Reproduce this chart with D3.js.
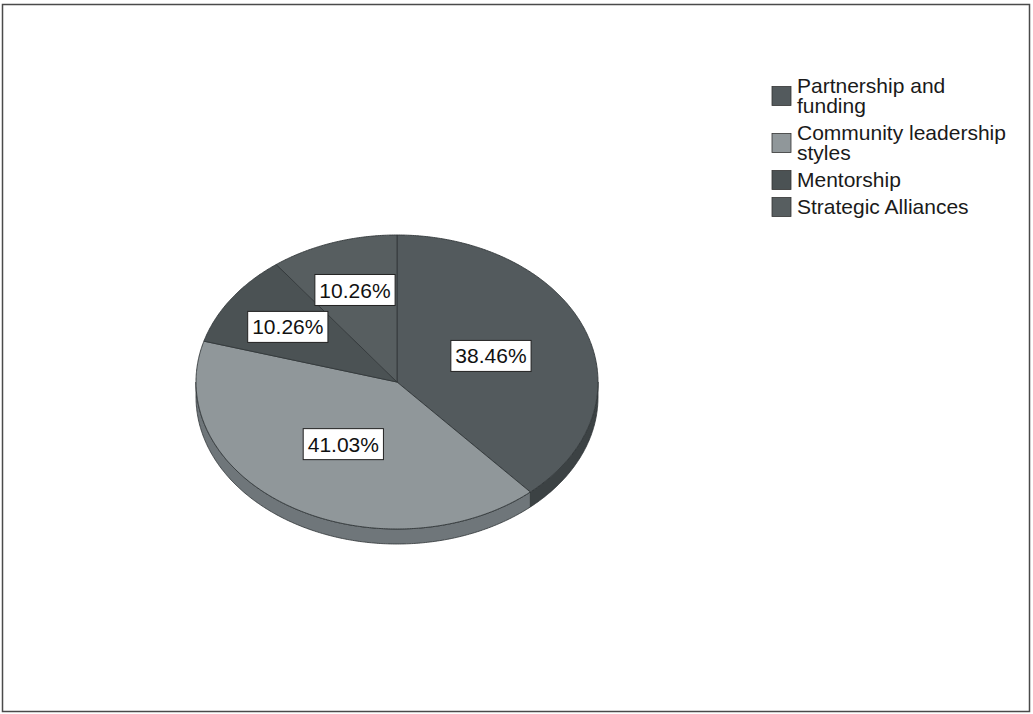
<!DOCTYPE html>
<html>
<head>
<meta charset="utf-8">
<script src="https://cdn.jsdelivr.net/npm/d3@7/dist/d3.min.js"></script>
<style>
  html, body { margin: 0; padding: 0; background: #fff; }
  svg { display: block; }
  text { font-family: "Liberation Sans", Arial, sans-serif; }
</style>
</head>
<body>
<svg id="chart" width="1033" height="714"></svg>
<script>
// ---- data ----
const categories = ["Partnership and funding", "Community leadership styles", "Mentorship", "Strategic Alliances"];
const legendLines = [["Partnership and", "funding"], ["Community leadership", "styles"], ["Mentorship"], ["Strategic Alliances"]];
const values = [38.46, 41.03, 10.26, 10.26];
const topColors = ["#535a5d", "#90979a", "#4b5254", "#575e60"];
const sideColors = ["#3c4244", "#6f767a", "#394042", "#41484a"];

// ---- layout ----
const W = 1033, H = 714;
const cx = 397, cy = 382, rx = 201, ry = 147, depth = 15;

const svg = d3.select("#chart");

// outer frame
svg.append("rect")
  .attr("x", 2.5).attr("y", 4.5).attr("width", 1027).attr("height", 707)
  .attr("fill", "#fff").attr("stroke", "#4a4a4a").attr("stroke-width", 1.5);

const pie = d3.pie().sort(null).value(d => d).startAngle(0).endAngle(2 * Math.PI);
const arcs = pie(values);

const sx = d3.scaleLinear().domain([-1, 1]).range([cx - rx, cx + rx]);
const sy = d3.scaleLinear().domain([-1, 1]).range([cy - ry, cy + ry]);
function pt(a, f = 1, dy = 0) {
  return [sx(f * Math.sin(a)), sy(-f * Math.cos(a)) + dy];
}
function arcPoints(a0, a1, dy = 0) {
  const n = Math.max(2, Math.ceil((a1 - a0) / (Math.PI / 360)));
  const pts = [];
  for (let i = 0; i <= n; i++) pts.push(pt(a0 + (a1 - a0) * i / n, 1, dy));
  return pts;
}
const line = d3.line();

const g = svg.append("g");

// side walls (front half only: angles between PI/2 and 3PI/2)
arcs.forEach((d, i) => {
  const s = Math.max(d.startAngle, Math.PI / 2);
  const e = Math.min(d.endAngle, 3 * Math.PI / 2);
  if (e <= s) return;
  const top = arcPoints(s, e, 0);
  const bot = arcPoints(s, e, depth).reverse();
  g.append("path")
    .attr("d", line(top.concat(bot)) + "Z")
    .attr("fill", sideColors[i])
    .attr("stroke", "#2f3436").attr("stroke-width", 0.8).attr("stroke-linejoin", "round");
});

// top faces
arcs.forEach((d, i) => {
  const pts = [[cx, cy]].concat(arcPoints(d.startAngle, d.endAngle, 0));
  g.append("path")
    .attr("d", line(pts) + "Z")
    .attr("fill", topColors[i])
    .attr("stroke", "#33393b").attr("stroke-width", 0.9).attr("stroke-linejoin", "round");
});

// data labels
const total = d3.sum(values);
arcs.forEach((d, i) => {
  const mid = (d.startAngle + d.endAngle) / 2;
  const f = d.value / total > 0.2 ? 0.5 : 0.66;
  const [lx, ly] = pt(mid, f);
  const lg = svg.append("g").attr("transform", `translate(${lx},${ly})`);
  const t = lg.append("text")
    .attr("text-anchor", "middle").attr("dy", "0.36em")
    .attr("font-size", 21).attr("fill", "#111")
    .text(d3.format(".2f")(d.value) + "%");
  const bb = t.node().getBBox();
  lg.insert("rect", "text")
    .attr("x", -bb.width / 2 - 4.5).attr("y", -15.5)
    .attr("width", bb.width + 9).attr("height", 31)
    .attr("fill", "#fff").attr("stroke", "#222").attr("stroke-width", 1);
});

// legend
const lgX = 772, txX = 797, firstBase = 93, lineH = 20, gap = 7;
let base = firstBase;
categories.forEach((c, i) => {
  const lines = legendLines[i];
  const lastBase = base + (lines.length - 1) * lineH;
  const sqC = (base + lastBase) / 2 - 7;
  svg.append("rect")
    .attr("x", lgX).attr("y", sqC - 9.5).attr("width", 19).attr("height", 19)
    .attr("fill", topColors[i]).attr("stroke", "#333").attr("stroke-width", 0.8);
  const t = svg.append("text").attr("x", txX).attr("y", base)
    .attr("font-size", 21).attr("fill", "#1a1a1a");
  lines.forEach((l, k) => {
    t.append("tspan").attr("x", txX).attr("y", base + k * lineH).text(l);
  });
  base = lastBase + lineH + gap;
});
</script>
</body>
</html>
